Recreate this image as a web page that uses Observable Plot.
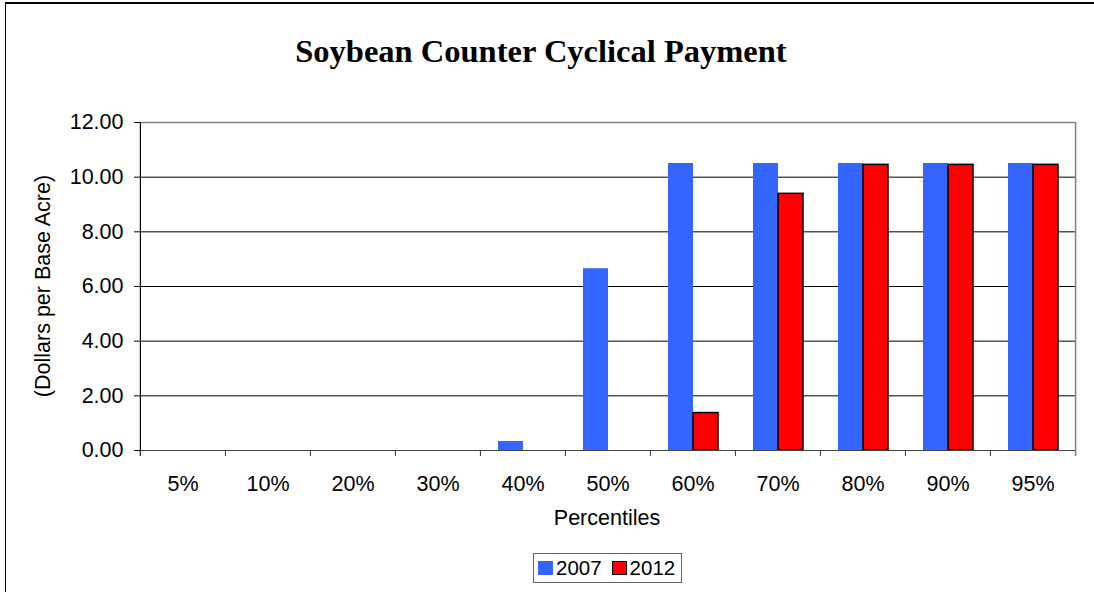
<!DOCTYPE html>
<html>
<head>
<meta charset="utf-8">
<script src="https://cdn.jsdelivr.net/npm/d3@7"></script>
<script src="https://cdn.jsdelivr.net/npm/@observablehq/plot@0.6"></script>
<style>
  body { margin: 0; background: #fff; }
  #wrap { position: relative; width: 1094px; height: 592px; overflow: hidden; background: #fff;
          font-family: "Liberation Sans", Arial, sans-serif; color: #000; }
  #border { position: absolute; left: 5px; top: 2px; width: 1200px; height: 700px;
            border-top: 2px solid #000; border-left: 1px solid #000; }
  #chart { position: absolute; left: 0; top: 0; }
  #title { position: absolute; left: 0; width: 1082px; top: 35px; text-align: center;
           font-family: "Liberation Serif", "Times New Roman", serif; font-weight: bold;
           font-size: 32.5px; line-height: 1; white-space: nowrap; }
  #ylabel { position: absolute; left: 44px; top: 286px; transform: translate(-50%, -50%) rotate(-90deg);
            font-size: 21.5px; line-height: 1; white-space: nowrap; }
  #xlabel { position: absolute; left: 607px; top: 519px; transform: translate(-50%, -50%);
            font-size: 21.5px; line-height: 1; white-space: nowrap; }
  #legend { position: absolute; left: 533px; top: 553px; width: 149px; height: 30px; box-sizing: border-box;
            border: 1px solid #666; display: flex; align-items: center; padding-left: 4px;
            font-size: 20.5px; line-height: 1; white-space: nowrap; }
  .sw { display: inline-block; width: 15px; height: 14px; box-sizing: border-box; margin-right: 3px; }
  .item { display: flex; align-items: center; margin-right: 10px; }
</style>
</head>
<body>
<div id="wrap">
  <div id="border"></div>
  <div id="chart"></div>
  <div id="title"></div>
  <div id="ylabel"></div>
  <div id="xlabel"></div>
  <div id="legend"></div>
</div>
<script>
// ---- data ----
const percentiles = ["5%", "10%", "20%", "30%", "40%", "50%", "60%", "70%", "80%", "90%", "95%"];
const years = ["2007", "2012"];
const payments2007 = [0, 0, 0, 0, 0.33, 6.65, 10.5, 10.5, 10.5, 10.5, 10.5];
const payments2012 = [0, 0, 0, 0, 0, 0, 1.37, 9.39, 10.45, 10.45, 10.45];
const yTicks = [0, 2, 4, 6, 8, 10, 12];
const seriesColors = ["#3366FF", "#FF0000"];
const titleText = "Soybean Counter Cyclical Payment";
const yLabel = "(Dollars per Base Acre)";
const xLabel = "Percentiles";

// ---- layout ----
const W = 1094, H = 592, mL = 139, mR = 18, mT = 122, mB = 142;
const facetW = (W - mL - mR) / percentiles.length;

const rows2007 = percentiles.map((p, i) => ({pct: p, year: years[0], value: payments2007[i]})).filter(d => d.value > 0);
const rows2012 = percentiles.map((p, i) => ({pct: p, year: years[1], value: payments2012[i]})).filter(d => d.value > 0);
const gridRows = percentiles.flatMap(p => yTicks.map(t => ({pct: p, y: t})));

const chart = Plot.plot({
  width: W, height: H,
  marginLeft: mL, marginRight: mR, marginTop: mT, marginBottom: mB,
  style: {fontFamily: "Liberation Sans, Arial, sans-serif", fontSize: "21.5px", color: "#000", background: "transparent", overflow: "visible"},
  fx: {domain: percentiles, padding: 0, label: null},
  x: {domain: years, paddingInner: 0, paddingOuter: 0.7, axis: null},
  y: {domain: [0, 12], label: null},
  marks: [
    Plot.ruleY(gridRows, {fx: "pct", y: "y", stroke: "#000", strokeWidth: 1}),
    Plot.ruleY(gridRows.filter(d => d.y === yTicks[yTicks.length - 1]), {fx: "pct", y: "y", stroke: "#808080", strokeWidth: 1.5}),
    Plot.barY(rows2007, {fx: "pct", x: "year", y: "value", fill: seriesColors[0]}),
    Plot.barY(rows2012, {fx: "pct", x: "year", y: "value", fill: seriesColors[1], stroke: "#000", strokeWidth: 1.5}),
    Plot.ruleY(gridRows.filter(d => d.y === 0), {fx: "pct", y: "y", stroke: "#444", strokeWidth: 1.2}),
    Plot.ruleX([percentiles[0]], {fx: d => d, x: null, dx: -facetW / 2, stroke: "#000", strokeWidth: 1.2, insetBottom: -6}),
    Plot.ruleX([percentiles[percentiles.length - 1]], {fx: d => d, x: null, dx: facetW / 2, stroke: "#808080", strokeWidth: 1.5, insetBottom: -6}),
    Plot.axisFx({anchor: "bottom", tickSize: 6, dx: -facetW / 2, tickFormat: () => "", label: null, stroke: "#333"}),
    Plot.axisFx({anchor: "bottom", tickSize: 0, tickPadding: 25, label: null}),
    Plot.axisY(yTicks, {tickSize: 6, tickPadding: 11, tickFormat: d => d.toFixed(2), label: null})
  ]
});
document.getElementById("chart").appendChild(chart);

document.getElementById("title").textContent = titleText;
document.getElementById("ylabel").textContent = yLabel;
document.getElementById("xlabel").textContent = xLabel;

const legend = document.getElementById("legend");
years.forEach((yr, i) => {
  const item = document.createElement("span");
  item.className = "item";
  const sw = document.createElement("span");
  sw.className = "sw";
  sw.style.background = seriesColors[i];
  if (i === 1) sw.style.border = "1.5px solid #000";
  item.appendChild(sw);
  item.appendChild(document.createTextNode(yr));
  legend.appendChild(item);
});
</script>
</body>
</html>
